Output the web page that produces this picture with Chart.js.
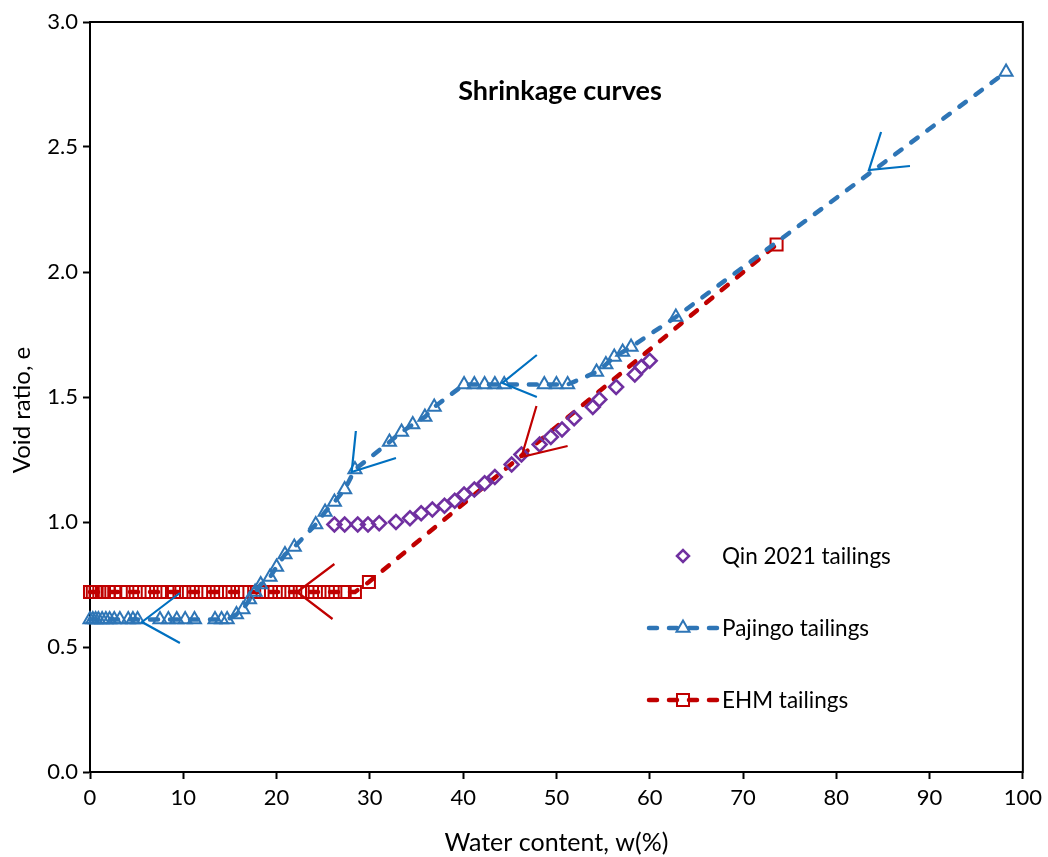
<!DOCTYPE html>
<html>
<head>
<meta charset="utf-8">
<script src="https://cdn.jsdelivr.net/npm/chart.js@4.4.0/dist/chart.umd.min.js"></script>
<style>
  html, body { margin: 0; padding: 0; background: #ffffff; }
  #wrap { width: 1048px; height: 857px; position: relative; }
</style>
</head>
<body>
<div id="wrap"><canvas id="c" width="1048" height="857"></canvas></div>
<script>
// Water content w (%) and void ratio e for each tailings shrinkage test
const qinW = [26.2, 27.3, 28.7, 29.8, 31.0, 32.8, 34.3, 35.5, 36.7, 38.0, 39.1, 40.1, 41.2, 42.3,
  43.4, 45.2, 46.25, 48.2, 49.4, 50.6, 51.9, 53.9, 54.6, 56.4, 58.4, 59.1, 60.0];
const qinE = [0.99, 0.99, 0.99, 0.99, 0.995, 1.0, 1.015, 1.035, 1.05, 1.065, 1.085, 1.11, 1.13, 1.155,
  1.18, 1.23, 1.27, 1.31, 1.34, 1.37, 1.415, 1.46, 1.49, 1.54, 1.59, 1.62, 1.645];

const pajingoW = [0, 0.3, 0.6, 0.9, 1.3, 1.7, 2.1, 2.6, 3.2, 4.1, 4.6, 5.1, 7.5, 8.4, 9.3, 10.2, 11.2,
  13.4, 14.1, 14.7, 15.7, 16.4, 17.1, 17.7, 18.3, 19.3, 20.0, 20.9, 21.9, 24.2, 25.2, 26.2, 27.3, 28.4,
  32.1, 33.4, 34.6, 35.9, 36.9, 40.1, 41.2, 42.3, 43.4, 44.4, 48.7, 50.0, 51.2, 54.3, 55.3, 56.2,
  57.1, 58.0, 62.8, 98.2];
const pajingoE = [0.61, 0.61, 0.61, 0.61, 0.61, 0.61, 0.61, 0.61, 0.61, 0.61, 0.61, 0.61, 0.61, 0.61,
  0.61, 0.61, 0.61, 0.61, 0.61, 0.61, 0.63, 0.65, 0.69, 0.72, 0.75, 0.78, 0.82, 0.87, 0.90, 0.99, 1.04,
  1.08, 1.13, 1.21, 1.32, 1.36, 1.39, 1.42, 1.46, 1.55, 1.55, 1.55, 1.55, 1.55, 1.55, 1.55, 1.55, 1.60,
  1.63, 1.66, 1.68, 1.70, 1.82, 2.80];

const ehmW = [0, 0.3, 0.6, 1.0, 1.5, 2.0, 2.6, 3.3, 4.0, 4.9, 5.8, 6.6, 7.5, 8.3, 9.0, 9.8, 10.6, 11.4,
  12.3, 13.2, 14.0, 14.9, 15.8, 16.6, 17.6, 18.5, 19.4, 20.3, 21.2, 22.0, 22.8, 23.8, 24.6, 25.5, 26.3,
  27.3, 28.4, 29.9, 73.6];
const ehmE = [0.72, 0.72, 0.72, 0.72, 0.72, 0.72, 0.72, 0.72, 0.72, 0.72, 0.72, 0.72, 0.72, 0.72, 0.72,
  0.72, 0.72, 0.72, 0.72, 0.72, 0.72, 0.72, 0.72, 0.72, 0.72, 0.72, 0.72, 0.72, 0.72, 0.72, 0.72, 0.72,
  0.72, 0.72, 0.72, 0.72, 0.72, 0.76, 2.11];

// Drying-direction arrowheads: [w, e] for arm, tip, arm
const pajingoArrows = [
  [[84.8, 2.56], [83.5, 2.408], [87.9, 2.424]],
  [[28.5, 1.364], [28.05, 1.20], [32.8, 1.256]],
  [[47.9, 1.668], [44.2, 1.556], [47.9, 1.50]],
  [[9.64, 0.716], [5.57, 0.60], [9.64, 0.516]]
];
const ehmArrows = [
  [[26.2, 0.832], [22.2, 0.72], [26.0, 0.612]],
  [[47.86, 1.464], [46.25, 1.26], [51.2, 1.304]]
];

const seriesNames = ['Qin 2021 tailings', 'Pajingo tailings', 'EHM tailings'];
const xTicks = [0, 10, 20, 30, 40, 50, 60, 70, 80, 90, 100];
const yTicks = [0.0, 0.5, 1.0, 1.5, 2.0, 2.5, 3.0];

const PURPLE = '#7030A0', BLUE = '#2E75B6', RED = '#C00000', ARROW_BLUE = '#0070C0';
const FONT = 'Lato, "Open Sans", sans-serif';

const toPts = (ws, es) => ws.map((w, i) => ({ x: w, y: es[i] }));

const arrowSets = [];
pajingoArrows.forEach(a => arrowSets.push({
  type: 'scatter', data: a.map(p => ({ x: p[0], y: p[1] })), showLine: true,
  borderColor: ARROW_BLUE, borderWidth: 2.2, pointRadius: 0, tension: 0, clip: false
}));
ehmArrows.forEach(a => arrowSets.push({
  type: 'scatter', data: a.map(p => ({ x: p[0], y: p[1] })), showLine: true,
  borderColor: RED, borderWidth: 2.2, pointRadius: 0, tension: 0, clip: false
}));

const seriesStyle = [
  { pointStyle: 'rectRot', radius: 7, color: PURPLE, line: false, pbw: 2.5 },
  { pointStyle: 'triangle', radius: 7.5, color: BLUE, line: true, pbw: 2 },
  { pointStyle: 'rect', radius: 8.5, color: RED, line: true, pbw: 2 }
];

const datasets = [
  ...arrowSets,
  {
    label: seriesNames[0], data: toPts(qinW, qinE), showLine: false,
    pointStyle: 'rectRot', pointRadius: 7, pointBorderWidth: 2.5,
    pointBorderColor: PURPLE, pointBackgroundColor: 'rgba(0,0,0,0)', clip: false
  },
  {
    label: seriesNames[1], data: toPts(pajingoW, pajingoE), showLine: true,
    borderColor: BLUE, borderWidth: 4.5, borderDash: [8, 12], borderCapStyle: 'round',
    pointStyle: 'triangle', pointRadius: 7.5, pointBorderWidth: 2,
    pointBorderColor: BLUE, pointBackgroundColor: 'rgba(0,0,0,0)', tension: 0, clip: false
  },
  {
    label: seriesNames[2], data: toPts(ehmW, ehmE), showLine: true,
    borderColor: RED, borderWidth: 4.5, borderDash: [8, 12], borderCapStyle: 'round',
    pointStyle: 'rect', pointRadius: 8.5, pointBorderWidth: 2,
    pointBorderColor: RED, pointBackgroundColor: 'rgba(0,0,0,0)', tension: 0, clip: false
  }
];

// Plot frame, title, axis titles and the in-plot legend
const decorations = {
  id: 'decorations',
  beforeDatasetsDraw(chart) {
    const { ctx, chartArea: a } = chart;
    ctx.save();
    ctx.strokeStyle = '#000';
    ctx.lineWidth = 2;
    ctx.strokeRect(a.left, a.top, a.right - a.left, a.bottom - a.top);
    ctx.restore();
  },
  afterDraw(chart) {
    const { ctx, chartArea: a } = chart;
    ctx.save();
    ctx.fillStyle = '#000';
    // chart title inside the plot
    ctx.font = 'bold 27px ' + FONT;
    ctx.textAlign = 'center';
    ctx.textBaseline = 'middle';
    ctx.fillText('Shrinkage curves', a.left + 470, a.top + 69);
    // axis titles
    ctx.font = '25px ' + FONT;
    ctx.fillText('Water content, w(%)', (a.left + a.right) / 2, 843);
    ctx.save();
    ctx.translate(22, 410);
    ctx.rotate(-Math.PI / 2);
    ctx.font = '24px ' + FONT;
    ctx.fillText('Void ratio, e', 0, 0);
    ctx.restore();

    // legend
    const rows = [556, 628, 700];
    const markX = a.left + 593;
    const textX = a.left + 632;
    ctx.font = '22.5px ' + FONT;
    ctx.textAlign = 'left';
    seriesStyle.forEach((s, i) => {
      const y = rows[i];
      if (s.line) {
        ctx.save();
        ctx.strokeStyle = s.color;
        ctx.lineWidth = 4.5;
        ctx.lineCap = 'round';
        ctx.setLineDash([8, 12]);
        ctx.beginPath();
        ctx.moveTo(markX - 34, y);
        ctx.lineTo(markX + 34, y);
        ctx.stroke();
        ctx.restore();
      }
      ctx.save();
      ctx.strokeStyle = s.color;
      ctx.fillStyle = 'rgba(0,0,0,0)';
      ctx.lineWidth = s.pbw;
      Chart.helpers.drawPoint(ctx, { pointStyle: s.pointStyle, radius: s.pointStyle === 'rectRot' ? 6 : s.radius, rotation: 0, borderWidth: s.pbw }, markX, y);
      ctx.restore();
      ctx.fillStyle = '#000';
      ctx.fillText(seriesNames[i], textX, y + 1);
    });
    ctx.restore();
  }
};

new Chart(document.getElementById('c'), {
  type: 'scatter',
  data: { datasets },
  options: {
    responsive: false,
    devicePixelRatio: 1,
    animation: false,
    layout: { padding: { left: 0, right: 24, top: 22, bottom: 0 } },
    plugins: { legend: { display: false }, tooltip: { enabled: false }, title: { display: false } },
    scales: {
      x: {
        type: 'linear', min: 0, max: 100,
        afterBuildTicks: s => { s.ticks = xTicks.map(v => ({ value: v })); },
        afterFit: s => { s.height = 85; },
        ticks: { color: '#000', font: { family: FONT, size: 22 }, padding: 6, maxRotation: 0 },
        grid: { drawOnChartArea: false, drawTicks: true, tickLength: 7, tickWidth: 2, tickColor: '#000' },
        border: { display: true, color: '#000', width: 2 }
      },
      y: {
        type: 'linear', min: 0, max: 3,
        afterBuildTicks: s => { s.ticks = yTicks.map(v => ({ value: v })); },
        afterFit: s => { s.width = 90; },
        ticks: { color: '#000', font: { family: FONT, size: 22 }, padding: 5, callback: v => Number(v).toFixed(1) },
        grid: { drawOnChartArea: false, drawTicks: true, tickLength: 7, tickWidth: 2, tickColor: '#000' },
        border: { display: true, color: '#000', width: 2 }
      }
    }
  },
  plugins: [decorations]
});
</script>
</body>
</html>
